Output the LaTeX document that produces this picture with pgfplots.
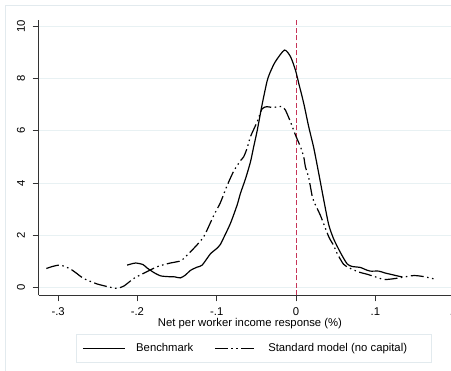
\documentclass[border=0pt]{standalone}
\usepackage{fontspec}
\setmainfont{Liberation Sans}
\usepackage{pgfplots}
\pgfplotsset{compat=1.18}

\definecolor{gridc}{RGB}{232,241,243}
\definecolor{framec}{RGB}{226,234,238}
\definecolor{zeroline}{RGB}{198,52,88}

% Kernel density estimates of the income response
\pgfplotstableread{
x        y
-0.213   0.85
-0.2025  0.93
-0.193   0.87
-0.1878  0.74
-0.179   0.56
-0.171   0.44
-0.162   0.41
-0.153   0.40
-0.1458  0.36
-0.1395  0.47
-0.133   0.65
-0.125   0.77
-0.1184  0.85
-0.108   1.28
-0.0995  1.50
-0.0953  1.65
-0.0912  1.90
-0.0827  2.45
-0.0743  3.15
-0.0701  3.60
-0.0638  4.15
-0.0575  4.80
-0.0533  5.40
-0.049   6.00
-0.0428  7.00
-0.0365  7.90
-0.0323  8.26
-0.026   8.65
-0.0146  9.09
-0.007   8.84
-0.0008  8.33
0.0034   7.82
0.0097   7.05
0.016    6.15
0.0223   5.35
0.0286   4.37
0.035    3.34
0.0412   2.40
0.0475   1.85
0.056    1.33
0.0644   0.90
0.0707   0.80
0.0812   0.76
0.0875   0.68
0.0938   0.62
0.1043   0.62
0.112    0.55
0.119    0.50
0.1317   0.41
0.134    0.40
}\benchmark

\pgfplotstableread{
x        y
-0.3148  0.72
-0.307   0.80
-0.297   0.85
-0.2845  0.70
-0.276   0.52
-0.268   0.34
-0.251   0.13
-0.234   0.00
-0.2256  -0.04
-0.217   0.05
-0.2046  0.34
-0.192   0.54
-0.175   0.79
-0.160   0.92
-0.150   0.98
-0.1436  1.05
-0.129   1.49
-0.1164  1.94
-0.1038  2.75
-0.0953  3.25
-0.0869  3.90
-0.0786  4.45
-0.0701  4.85
-0.066   5.00
-0.0617  5.33
-0.0575  5.77
-0.049   6.34
-0.0428  6.84
-0.0365  6.92
-0.030   6.89
-0.0218  6.92
-0.0175  6.92
-0.0134  6.79
-0.007   6.34
-0.0008  5.84
0.0055   5.39
0.0097   5.00
0.0118   4.62
0.016    4.20
0.0203   3.50
0.0223   3.30
0.0308   2.75
0.0412   1.94
0.0475   1.60
0.0518   1.30
0.060    0.88
0.0686   0.72
0.0797   0.58
0.0897   0.50
0.100    0.40
0.1106   0.30
0.121    0.32
0.1317   0.37
0.1484   0.45
0.161    0.41
0.1758   0.31
}\standard

\begin{document}
\fontsize{11.3}{13.5}\selectfont
\begin{tikzpicture}
\useasboundingbox (0pt,0pt) rectangle (451pt,371pt);
\draw[framec, line width=0.8pt] (5pt,-10pt) rectangle (470pt,365.5pt);
\begin{axis}[
  at={(38.7pt,75.7pt)}, anchor=south west,
  scale only axis, width=419.9pt, height=275.5pt,
  xmin=-0.3245, xmax=0.205, ymin=-0.306, ymax=10.25,
  axis x line*=bottom, axis y line*=left,
  axis line style={black!80, line width=0.8pt, -},
  xtick={-0.3,-0.2,-0.1,0,0.1,0.2}, xticklabels={-.3,-.2,-.1,0,.1,.2},
  ytick={0,2,4,6,8,10}, yticklabels={0,2,4,6,8,10},
  tick align=outside, major tick length=6pt,
  tick style={black!80, line width=0.8pt},
  ymajorgrids, grid style={gridc, line width=0.8pt},
  xticklabel style={anchor=center, yshift=-10.2pt},
  yticklabel style={rotate=90, anchor=center, yshift=11.8pt},
  tick label style={font=\fontsize{11.3}{13.5}\selectfont},
  xlabel={Net per worker income response (\%)},
  xlabel style={at={(axis description cs:0.5032,0)}, anchor=center, yshift=-28pt,
    font=\fontsize{11.3}{13.5}\selectfont},
  legend columns=2,
  legend image code/.code={\draw[#1, line width=1.2pt] (0pt,0pt) -- (42pt,0pt);},
  legend style={at={(axis description cs:0.512,-0.1405)}, anchor=north,
    draw=framec, line width=0.8pt, inner xsep=6pt, inner ysep=7pt,
    font=\fontsize{11.3}{13.5}\selectfont,
    nodes={inner xsep=0pt},
    /tikz/every odd column/.append style={column sep=10.7pt},
    /tikz/every even column/.append style={column sep=21pt}},
]
\addplot[zeroline, line width=0.8pt, dash pattern=on 5pt off 2.5pt, forget plot]
  coordinates {(0,-0.306) (0,10.25)};
\addplot[black, line width=1.2pt, smooth, tension=0.4] table[x=x,y=y] {\benchmark};
\addlegendentry{Benchmark}
\addplot[black, line width=1.2pt, smooth, tension=0.4,
  dash pattern=on 13pt off 3.5pt on 1.5pt off 3.5pt on 1.5pt off 3.5pt]
  table[x=x,y=y] {\standard};
\addlegendentry{Standard model (no capital)\hspace*{18pt}}
\end{axis}
\end{tikzpicture}
\end{document}
